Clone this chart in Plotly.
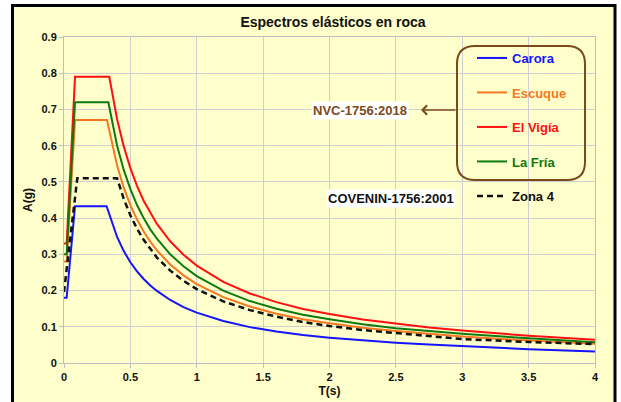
import plotly.graph_objects as go

# ---------------- data ----------------
T_carora = [0, 0.02, 0.083, 0.321, 0.4, 0.45, 0.5, 0.55, 0.6, 0.65, 0.7, 0.8, 0.9, 1.0,
            1.2, 1.4, 1.6, 1.8, 2.0, 2.25, 2.5, 2.75, 3.0, 3.5, 4.0]
A_carora = [0.18, 0.18, 0.433, 0.433, 0.348, 0.309, 0.278, 0.253, 0.232, 0.214, 0.199, 0.174,
            0.154, 0.139, 0.116, 0.099, 0.087, 0.077, 0.070, 0.062, 0.056, 0.051, 0.046, 0.038, 0.032]

T_escuque = [0, 0.02, 0.083, 0.324, 0.4, 0.45, 0.5, 0.55, 0.6, 0.65, 0.7, 0.8, 0.9, 1.0,
             1.2, 1.4, 1.6, 1.8, 2.0, 2.25, 2.5, 2.75, 3.0, 3.5, 4.0]
A_escuque = [0.28, 0.28, 0.671, 0.671, 0.545, 0.484, 0.436, 0.396, 0.363, 0.335, 0.311, 0.272,
             0.242, 0.218, 0.182, 0.156, 0.136, 0.121, 0.110, 0.097, 0.088, 0.080, 0.073, 0.062, 0.053]

T_vigia = [0, 0.02, 0.083, 0.341, 0.4, 0.45, 0.5, 0.55, 0.6, 0.65, 0.7, 0.8, 0.9, 1.0,
           1.2, 1.4, 1.6, 1.8, 2.0, 2.25, 2.5, 2.75, 3.0, 3.5, 4.0]
A_vigia = [0.33, 0.33, 0.79, 0.79, 0.673, 0.598, 0.538, 0.489, 0.448, 0.414, 0.384, 0.336,
           0.299, 0.269, 0.224, 0.192, 0.168, 0.149, 0.135, 0.120, 0.108, 0.098, 0.090, 0.075, 0.064]

T_fria = [0, 0.02, 0.083, 0.334, 0.4, 0.45, 0.5, 0.55, 0.6, 0.65, 0.7, 0.8, 0.9, 1.0,
          1.2, 1.4, 1.6, 1.8, 2.0, 2.25, 2.5, 2.75, 3.0, 3.5, 4.0]
A_fria = [0.30, 0.30, 0.72, 0.72, 0.600, 0.533, 0.480, 0.436, 0.400, 0.369, 0.343, 0.300,
          0.267, 0.240, 0.200, 0.171, 0.150, 0.133, 0.121, 0.107, 0.096, 0.088, 0.081, 0.068, 0.057]

T_zona4 = [0, 0.1, 0.4, 0.45, 0.5, 0.55, 0.6, 0.65, 0.7, 0.8, 0.9, 1.0,
           1.2, 1.4, 1.6, 1.8, 2.0, 2.25, 2.5, 2.75, 3.0, 3.5, 4.0]
A_zona4 = [0.196, 0.51, 0.51, 0.453, 0.408, 0.371, 0.340, 0.314, 0.291, 0.255, 0.227, 0.204,
           0.170, 0.146, 0.128, 0.113, 0.102, 0.091, 0.082, 0.074, 0.066, 0.058, 0.052]

x_ticks = [0, 0.5, 1, 1.5, 2, 2.5, 3, 3.5, 4]
x_labels = ["0", "0.5", "1", "1.5", "2", "2.5", "3", "3.5", "4"]
y_ticks = [0, 0.1, 0.2, 0.3, 0.4, 0.5, 0.6, 0.7, 0.8, 0.9]
y_labels = ["0", "0.1", "0.2", "0.3", "0.4", "0.5", "0.6", "0.7", "0.8", "0.9"]

# ---------------- styling ----------------
FONT = "Arial, Liberation Sans, sans-serif"
BROWN = "#7A4A1C"
BLUE = "#1414FF"
ORANGE = "#F5791F"
RED = "#FF1010"
GREEN = "#0E7A0E"

W, H = 621, 402
ML, MR, MT, MB = 64, 26, 37, 39
PW, PH = W - ML - MR, H - MT - MB


def px(xp):
    return (xp - ML) / PW


def py(yp):
    return (H - MB - yp) / PH


series = [
    ("Carora", T_carora, A_carora, BLUE, "solid", 2),
    ("Escuque", T_escuque, A_escuque, ORANGE, "solid", 2),
    ("El Vigía", T_vigia, A_vigia, RED, "solid", 2),
    ("La Fría", T_fria, A_fria, GREEN, "solid", 2),
    ("Zona 4", T_zona4, A_zona4, "#111111", "6px,4px", 2.5),
]

fig = go.Figure()
for i, (name, t, a, col, dash, w) in enumerate(series):
    fig.add_trace(go.Scatter(
        x=t, y=a, mode="lines",
        name=f"<span style='color:{col}'>{name}</span>",
        line=dict(color=col, width=w, dash=dash),
        legendgroup=f"g{i}",
    ))

fig.update_layout(
    width=W, height=H,
    margin=dict(l=ML, r=MR, t=MT, b=MB, autoexpand=False),
    paper_bgcolor="white",
    plot_bgcolor="white",
    font=dict(family=FONT, color="#111111"),
    title=dict(text="<b>Espectros elásticos en roca</b>", x=333 / W, xanchor="center",
               y=1 - 22 / H, yanchor="middle", font=dict(size=14, family=FONT, color="#111111")),
    showlegend=True,
    legend=dict(
        x=px(472), y=py(43), xanchor="left", yanchor="top",
        bgcolor="rgba(0,0,0,0)", borderwidth=0,
        font=dict(size=13, family=FONT, weight="bold"),
        tracegroupgap=14.6, traceorder="grouped", itemwidth=30,
    ),
    xaxis=dict(
        range=[0, 4], tickvals=x_ticks, ticktext=x_labels,
        showgrid=True, gridcolor="#CFCFCF", gridwidth=1,
        showline=True, linecolor="#BFBFBF", linewidth=1, mirror=True,
        ticks="outside", ticklen=4, tickcolor="#BFBFBF",
        tickfont=dict(size=11, family=FONT, weight="bold", color="#111111"),
        zeroline=False,
        title=dict(text="<b>T(s)</b>", font=dict(size=12, family=FONT, color="#111111"), standoff=4),
        automargin=False,
    ),
    yaxis=dict(
        range=[0, 0.9], tickvals=y_ticks, ticktext=y_labels,
        showgrid=True, gridcolor="#CFCFCF", gridwidth=1,
        showline=True, linecolor="#BFBFBF", linewidth=1, mirror=True,
        ticks="outside", ticklen=4, tickcolor="#BFBFBF",
        tickfont=dict(size=11, family=FONT, weight="bold", color="#111111"),
        zeroline=False,
        title=dict(text="<b>A(g)</b>", font=dict(size=12, family=FONT, color="#111111"), standoff=6),
        automargin=False,
    ),
)

# outer yellow frame with black border
fig.add_shape(type="rect", xref="paper", yref="paper",
              x0=px(12.5), x1=px(615), y0=py(420), y1=py(5.5),
              fillcolor="#FFFFCC", line=dict(color="black", width=3), layer="below")

# rounded brown box around NVC legend entries
x0, x1 = px(457), px(585)
yt, yb = py(46), py(180)
rx, ry = 18 / PW, 18 / PH
path = (f"M{x0+rx},{yt} L{x1-rx},{yt} Q{x1},{yt} {x1},{yt-ry} "
        f"L{x1},{yb+ry} Q{x1},{yb} {x1-rx},{yb} "
        f"L{x0+rx},{yb} Q{x0},{yb} {x0},{yb+ry} "
        f"L{x0},{yt-ry} Q{x0},{yt} {x0+rx},{yt} Z")
fig.add_shape(type="path", xref="paper", yref="paper", path=path,
              line=dict(color=BROWN, width=2), fillcolor="rgba(0,0,0,0)", layer="above")

# arrow from box to NVC label
fig.add_annotation(xref="paper", yref="paper", x=px(421), y=py(110), ax=36, ay=0,
                   text="", showarrow=True, arrowhead=4, arrowsize=1.2, arrowwidth=1.5,
                   arrowcolor=BROWN)

fig.add_annotation(xref="paper", yref="paper", x=px(360), y=py(110),
                   text="<b>NVC-1756:2018</b>", showarrow=False, xanchor="center", yanchor="middle",
                   font=dict(size=13, family=FONT, color=BROWN), bgcolor="white", borderpad=1)

fig.add_annotation(xref="paper", yref="paper", x=px(390.5), y=py(198),
                   text="<b>COVENIN-1756:2001</b>", showarrow=False, xanchor="center", yanchor="middle",
                   font=dict(size=13, family=FONT, color="#111111"), bgcolor="white", borderpad=1)

fig.write_html("out.html")
